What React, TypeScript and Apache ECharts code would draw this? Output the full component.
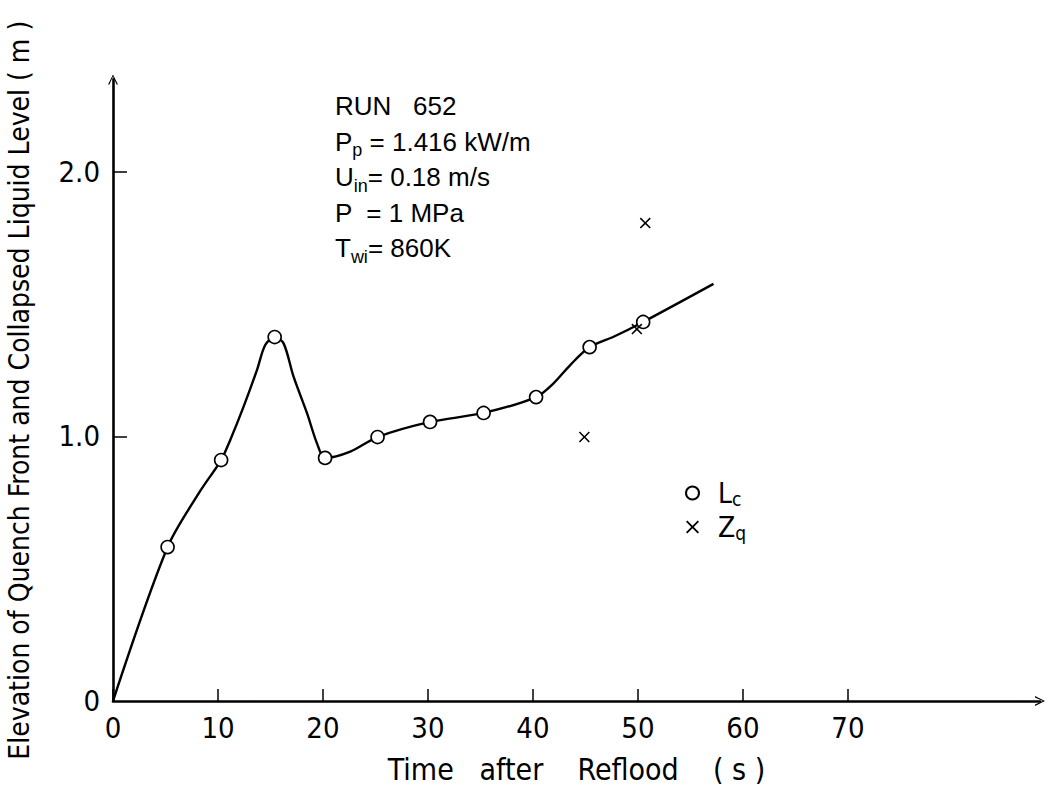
import React, { useEffect, useRef } from "react";
import * as echarts from "echarts";

// ---- data ----
const lcTimes = [5.2, 10.3, 15.4, 20.2, 25.2, 30.2, 35.3, 40.3, 45.4, 50.5];
const lcValues = [0.582, 0.911, 1.376, 0.919, 0.998, 1.055, 1.089, 1.149, 1.338, 1.433];

const zqTimes = [44.9, 49.9, 50.7];
const zqValues = [0.998, 1.406, 1.807];

// hand-drawn fitted curve
const curveTimes = [
  0, 5.2, 8.31, 10.3, 11.17, 12.44, 13.71, 14.5, 15.4, 16.25, 17.2, 18.48, 19.43, 20.2,
  22.6, 25.2, 30.2, 35.3, 40.3, 41.96, 43.55, 45.4, 47.68, 50.5, 57.2,
];
const curveValues = [
  0, 0.582, 0.794, 0.911, 0.987, 1.113, 1.251, 1.346, 1.376, 1.352, 1.226, 1.088, 0.974, 0.919,
  0.943, 0.998, 1.055, 1.089, 1.149, 1.201, 1.27, 1.338, 1.377, 1.433, 1.577,
];

const xTickValues = [0, 10, 20, 30, 40, 50, 60, 70];
const yTickValues = [1, 2];
const yLabelValues = [0, 1, 2];

const annotationLines = [
  "{a|RUN   652}",
  "{a|P}{b|p}{a| = 1.416 kW/m}",
  "{a|U}{b|in}{a|= 0.18 m/s}",
  "{a|P  = 1 MPa}",
  "{a|T}{b|wi}{a|= 860K}",
];

const FONT = "'Liberation Sans Narrow', 'DejaVu Sans Condensed', sans-serif";
const FONT2 = "'Liberation Sans', Arial, sans-serif";
const X_MARK = "path://M0,10 L10,0 L50,40 L90,0 L100,10 L60,50 L100,90 L90,100 L50,60 L10,100 L0,90 L40,50 Z";
const CHEVRON = "path://M50,0 L100,100 L86,100 L50,22 L14,100 L0,100 Z";

export default function App() {
  const ref = useRef<HTMLDivElement>(null);
  useEffect(() => {
    if (!ref.current) return;
    const chart = echarts.init(ref.current, undefined, { renderer: "svg" });
    const pair = (xs: number[], ys: number[]) => xs.map((x, i) => [x, ys[i]]);
    chart.setOption({
      animation: false,
      backgroundColor: "#ffffff",
      textStyle: { fontFamily: FONT, color: "#000" },
      grid: { left: 113, right: 6, top: 79.4, bottom: 98, containLabel: false, outerBoundsMode: "none" },
      xAxis: {
        type: "value",
        min: 0,
        max: 88.3,
        interval: 10,
        name: "Time   after    Reflood    ( s )",
        nameLocation: "middle",
        nameGap: 53,
        nameTextStyle: { fontFamily: FONT, fontSize: 30, color: "#000" },
        axisLine: { show: true, lineStyle: { color: "#000", width: 2.6 }, symbol: ["none", CHEVRON], symbolSize: [10, 16] },
        axisTick: { show: true, inside: true, length: 12, lineStyle: { color: "#000", width: 1.5 }, customValues: xTickValues },
        axisLabel: { fontFamily: FONT, fontSize: 29, color: "#000", margin: 12, customValues: xTickValues },
        splitLine: { show: false },
      },
      yAxis: {
        type: "value",
        min: 0,
        max: 2.35,
        name: "Elevation of Quench Front and Collapsed Liquid Level ( m )",
        nameLocation: "middle",
        nameGap: 80,
        nameTextStyle: { fontFamily: FONT, fontSize: 28, color: "#000" },
        axisLine: { show: true, lineStyle: { color: "#000", width: 2.6 }, symbol: ["none", CHEVRON], symbolSize: [10, 16] },
        axisTick: { show: true, inside: true, length: 14, lineStyle: { color: "#000", width: 1.5 }, customValues: yTickValues },
        axisLabel: {
          fontFamily: FONT,
          fontSize: 29,
          color: "#000",
          margin: 13,
          customValues: yLabelValues,
          formatter: (v: number) => (v === 0 ? "0" : v.toFixed(1)),
        },
        splitLine: { show: false },
      },
      legend: {
        orient: "vertical",
        left: 680,
        top: 474,
        itemWidth: 13,
        itemHeight: 13,
        itemGap: 5,
        selectedMode: false,
        data: ["Lc", "Zq"],
        formatter: (name: string) => (name === "Lc" ? "{m|L}{s|c}" : "{m|Z}{s|q}"),
        textStyle: {
          rich: {
            m: { fontFamily: FONT, fontSize: 28, color: "#000", lineHeight: 30, padding: [0, 0, 0, 14], verticalAlign: "middle" },
            s: { fontFamily: FONT, fontSize: 19, color: "#000", lineHeight: 18, verticalAlign: "bottom" },
          },
        },
      },
      graphic: [
        {
          type: "text",
          left: 335,
          top: 93,
          style: {
            text: annotationLines.join("\n"),
            fill: "#000",
            rich: {
              a: { fontFamily: FONT2, fontSize: 26, lineHeight: 35.5, verticalAlign: "middle", fill: "#000" },
              b: { fontFamily: FONT2, fontSize: 18, lineHeight: 20, verticalAlign: "bottom", fill: "#000" },
            },
          },
        },
      ],
      series: [
        {
          name: "curve",
          type: "line",
          data: pair(curveTimes, curveValues),
          smooth: 0.3,
          showSymbol: false,
          lineStyle: { color: "#000", width: 2.4 },
          z: 1,
          silent: true,
        },
        {
          name: "Lc",
          type: "scatter",
          data: pair(lcTimes, lcValues),
          symbol: "circle",
          symbolSize: 13,
          itemStyle: { color: "#fff", borderColor: "#000", borderWidth: 1.6, opacity: 1 },
          z: 3,
        },
        {
          name: "Zq",
          type: "scatter",
          data: pair(zqTimes, zqValues),
          symbol: X_MARK,
          symbolSize: 11,
          itemStyle: { color: "#000", opacity: 1 },
          z: 4,
        },
      ],
    });
    return () => chart.dispose();
  }, []);
  return <div ref={ref} style={{ position: "absolute", left: 0, top: 0, width: 1046, height: 799 }} />;
}
